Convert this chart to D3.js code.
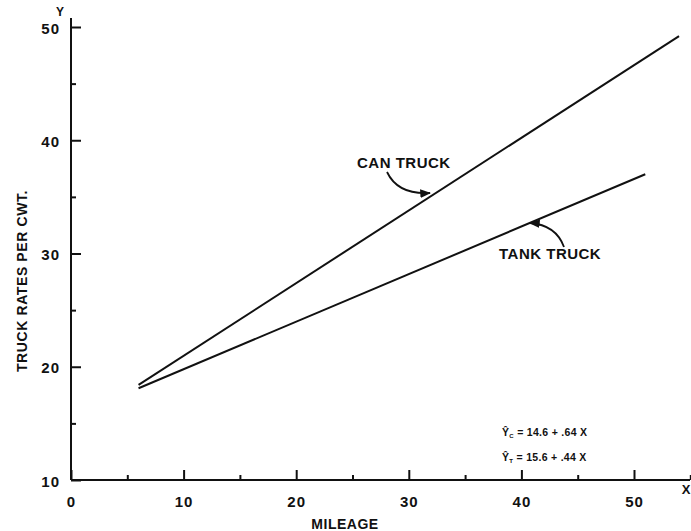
<!DOCTYPE html>
<html><head><meta charset="utf-8">
<script src="https://cdn.jsdelivr.net/npm/d3@7"></script>
<style>body{margin:0;background:#fff}svg{display:block}text{font-family:"Liberation Sans",Arial,sans-serif;font-weight:bold;fill:#111}</style>
</head><body>
<svg id="c" width="691" height="531"></svg>
<script>
const xMajor = [0,10,20,30,40,50];
const yMajor = [10,20,30,40,50];
const canX = [6, 54];
const canY = [18.4, 49.2];
const tankX = [6, 51];
const tankY = [18.1, 37.0];
const equations = [["C","14.6 + .64 X"],["T","15.6 + .44 X"]];

const svg = d3.select("#c");
const x = d3.scaleLinear().domain([0,50]).range([71,634]);
const y = d3.scaleLinear().domain([10,50]).range([480,27]);

// axis lines
svg.append("line").attr("x1",x(0)).attr("x2",690).attr("y1",y(10)).attr("y2",y(10)).attr("stroke","#111").attr("stroke-width",2);
svg.append("line").attr("x1",x(0)).attr("x2",x(0)).attr("y1",y(10)).attr("y2",18).attr("stroke","#111").attr("stroke-width",2);

// x axis ticks
const gx = svg.append("g").attr("transform",`translate(0,${y(10)})`);
gx.call(d3.axisBottom(x).tickValues(xMajor).tickSize(-10).tickPadding(13).tickFormat(d3.format("d")));
const gx2 = svg.append("g").attr("transform",`translate(0,${y(10)})`);
gx2.call(d3.axisBottom(x).tickValues([5,15,25,35,45,55]).tickSize(-5).tickFormat(""));
// y axis ticks
const gy = svg.append("g").attr("transform",`translate(${x(0)},0)`);
gy.call(d3.axisLeft(y).tickValues(yMajor).tickSize(-10).tickPadding(11).tickFormat(d3.format("d")));
const gy2 = svg.append("g").attr("transform",`translate(${x(0)},0)`);
gy2.call(d3.axisLeft(y).tickValues([15,25,35,45]).tickSize(-5).tickFormat(""));
svg.selectAll(".domain").remove();
svg.selectAll(".tick line").attr("stroke","#111").attr("stroke-width",2);
svg.selectAll(".tick text").attr("font-size",15).attr("letter-spacing",1).attr("font-family","Liberation Sans, Arial, sans-serif").attr("font-weight","bold").attr("fill","#111");
gx.selectAll(".tick text").attr("dy","0.9em");
gy.selectAll(".tick text").attr("dy","0.4em");

// lines
const line = d3.line().x(d=>x(d[0])).y(d=>y(d[1]));
svg.append("path").datum(canX.map((v,i)=>[v,canY[i]])).attr("d",line).attr("fill","none").attr("stroke","#111").attr("stroke-width",2);
svg.append("path").datum(tankX.map((v,i)=>[v,tankY[i]])).attr("d",line).attr("fill","none").attr("stroke","#111").attr("stroke-width",2);

// labels
svg.append("text").attr("x",60).attr("y",16).attr("text-anchor","middle").attr("font-size",12).text("Y");
svg.append("text").attr("x",686).attr("y",494).attr("text-anchor","middle").attr("font-size",13).text("X");
svg.append("text").attr("x",345).attr("y",529).attr("text-anchor","middle").attr("font-size",14).attr("letter-spacing",0.5).text("MILEAGE");
svg.append("text").attr("transform","translate(27,281) rotate(-90)").attr("text-anchor","middle").attr("font-size",14).attr("letter-spacing",0.6).text("TRUCK RATES PER CWT.");

svg.append("text").attr("x",357).attr("y",168).attr("font-size",15).attr("letter-spacing",0.5).text("CAN TRUCK");
svg.append("text").attr("x",499).attr("y",259).attr("font-size",15).attr("letter-spacing",0.5).text("TANK TRUCK");

// arrows
const defs = svg.append("defs");
defs.append("marker").attr("id","ah").attr("viewBox","0 0 10 10").attr("refX",9).attr("refY",5)
  .attr("markerWidth",6).attr("markerHeight",6).attr("orient","auto")
  .append("path").attr("d","M0,1 L10,5 L0,9 Z").attr("fill","#111");
svg.append("path").attr("d","M387,172 Q398,195 430,193").attr("fill","none").attr("stroke","#111").attr("stroke-width",1.8).attr("marker-end","url(#ah)");
svg.append("path").attr("d","M564,247 Q556,225 530,223").attr("fill","none").attr("stroke","#111").attr("stroke-width",1.8).attr("marker-end","url(#ah)");

// equations
equations.forEach((e,i)=>{
  const t = svg.append("text").attr("x",502).attr("y",436+i*25).attr("font-size",10.5).attr("letter-spacing",0.3).attr("font-weight","normal");
  t.append("tspan").text("Ŷ");
  t.append("tspan").attr("font-size",6).attr("dy",2).text(e[0]);
  t.append("tspan").attr("dy",-2).text(" = " + e[1]);
});
</script>
</body></html>
